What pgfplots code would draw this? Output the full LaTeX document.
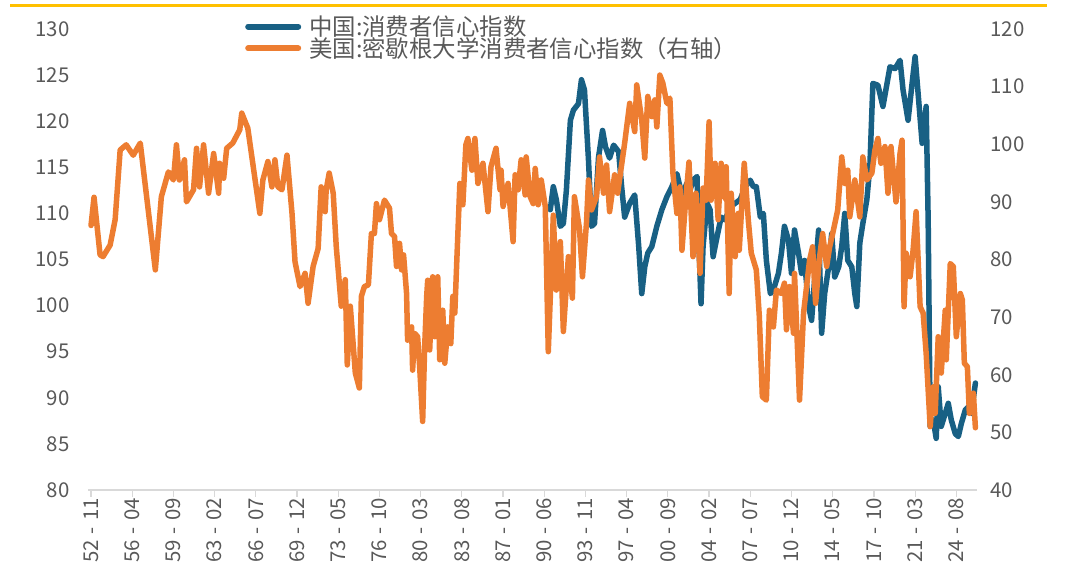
\documentclass[border=0pt]{standalone}
\usepackage{fontspec}
\setmainfont{Noto Sans CJK SC}
\usepackage{pgfplots}
\pgfplotsset{compat=1.18}
\definecolor{cnblue}{RGB}{24,96,132}
\definecolor{usorange}{RGB}{237,125,49}
\definecolor{axgray}{RGB}{217,217,217}
\definecolor{txtgray}{RGB}{89,89,89}
\definecolor{topgold}{RGB}{255,192,0}
\newcommand{\dl}[2]{#1\hspace{0.3em}-\hspace{0.3em}#2}

% Michigan consumer sentiment (right axis), x = months since 1952-11
\pgfplotstableread{
m v
0 85.9
3 90.8
9 80.8
12 80.5
19 82.5
24 86.9
29 99.0
35 99.9
42 98.1
49 100.2
64 78.2
70 90.9
77 95.2
82 93.8
85 99.9
88 93.8
93 97.3
95 90.0
102 92.1
105 99.3
108 92.6
112 99.9
117 91.5
122 98.4
127 91.5
128 96.7
132 94.1
135 99.3
141 100.2
148 102.5
150 105.4
156 102.8
168 88.0
171 93.8
176 97.0
180 92.6
183 97.3
186 92.6
190 92.1
195 98.1
200 88.0
203 79.6
208 75.3
213 77.6
216 72.4
221 78.8
226 81.9
229 92.6
233 88.3
234 92.1
237 95.0
241 91.5
244 82.3
249 71.9
253 76.5
255 61.7
258 71.9
263 60.3
267 57.7
269 73.6
272 75.3
276 75.6
279 84.5
282 84.5
284 89.7
287 86.9
292 90.3
297 88.9
299 84.5
302 84.0
304 78.8
307 82.8
309 78.2
311 80.8
314 74.1
315 66.0
319 68.3
320 60.8
322 67.2
325 66.6
327 61.4
330 51.9
332 64.9
334 73.6
335 76.4
337 64.3
340 77.0
342 66.6
345 77.0
347 62.6
350 71.2
352 62.0
355 68.3
358 65.4
360 73.6
362 70.7
364 79.9
367 93.2
370 89.5
373 99.9
375 101.0
379 95.5
382 101.0
385 93.2
390 96.7
395 88.3
398 96.1
403 99.3
407 92.1
408 95.5
410 89.2
415 93.2
420 83.1
422 94.7
425 92.1
428 97.3
432 91.2
433 97.8
437 90.9
440 89.7
442 95.8
445 89.5
448 93.8
452 89.2
455 64.0
460 87.7
463 74.7
467 83.1
470 67.5
475 80.5
479 73.3
481 90.9
486 85.4
489 77.0
493 86.3
495 93.8
498 88.6
503 90.9
506 97.8
510 91.5
513 96.4
516 88.3
521 94.7
524 91.5
531 100.2
536 107.1
541 102.2
543 110.3
548 104.2
551 97.6
554 108.3
558 104.8
561 107.7
563 103.0
566 112.0
569 110.6
573 107.1
576 108.0
579 95.0
583 88.0
586 92.6
588 81.6
592 90.9
595 96.9
599 80.5
602 91.5
606 77.6
609 92.4
612 90.3
615 103.9
617 90.3
621 96.7
624 86.9
627 96.7
631 90.6
632 96.1
635 74.1
637 91.5
641 80.5
644 88.0
645 81.6
649 93.8
650 96.7
654 86.9
657 81.1
662 78.2
665 70.1
668 56.2
672 55.6
675 71.2
679 68.3
682 74.7
687 74.1
690 75.9
692 67.8
695 75.3
699 67.2
700 77.6
705 55.6
709 70.7
712 75.3
715 79.9
718 82.2
721 72.4
725 80.5
728 84.5
732 78.8
735 82.2
738 84.5
743 88.6
747 97.8
750 93.2
753 95.5
755 87.4
760 93.8
765 87.4
768 97.8
772 93.8
777 95.0
780 99.0
783 101.0
786 96.7
790 99.6
793 91.5
796 99.6
801 90.0
805 98.4
807 100.7
809 71.8
811 81.1
815 77.0
818 81.6
821 88.3
825 71.8
828 70.7
831 63.7
835 51.0
838 57.9
840 53.3
843 66.6
846 60.3
850 71.2
851 62.6
855 79.3
858 78.8
861 66.6
865 74.1
867 73.0
869 62.0
872 61.4
874 53.3
878 56.8
880 50.8
}\usdata

% China consumer confidence (left axis)
\pgfplotstableread{
m v
457 110.4
460 112.9
463 111.5
467 108.6
470 108.9
473 112.5
477 120.1
480 121.2
485 121.9
488 124.5
491 123.4
495 115.8
498 108.6
501 108.9
505 116.1
509 119.0
512 117.2
516 116.0
520 117.4
525 116.7
528 112.9
531 109.6
536 111.1
541 112.0
545 106.4
548 101.3
551 104.2
554 105.7
558 106.4
563 108.6
568 110.4
573 111.8
578 112.9
583 114.3
586 112.9
589 112.2
593 113.3
596 112.5
599 113.6
603 114.0
604 109.3
607 100.2
609 106.4
613 111.1
616 110.4
619 105.3
623 107.5
627 109.6
631 109.3
636 110.7
641 111.1
646 111.5
651 112.9
656 113.6
659 112.9
662 112.9
666 109.6
669 110.0
672 104.9
676 101.3
679 101.7
684 103.5
687 105.7
690 108.6
694 107.1
697 103.5
700 108.2
704 105.7
707 103.5
710 104.9
714 99.9
717 98.4
720 102.8
724 108.2
727 97.0
730 101.3
734 104.2
737 107.8
740 103.1
744 104.2
747 106.4
750 110.0
753 104.9
757 104.2
760 101.3
762 99.9
765 106.8
768 108.9
772 111.5
775 115.1
778 124.1
783 123.9
788 121.6
795 125.9
800 125.7
805 126.6
808 123.4
813 120.1
817 124.1
820 127.0
823 123.0
827 117.6
831 121.6
833 109.3
835 86.9
838 87.6
841 85.6
843 91.2
846 86.9
850 88.3
853 89.4
856 87.6
860 86.1
863 85.8
866 87.2
870 88.7
873 89.0
876 88.3
880 91.6
}\cndata

\begin{document}
\begin{tikzpicture}
\path[use as bounding box] (0,0) rectangle (1065bp,571bp);
\draw[topgold, line width=3bp] (10bp,565bp) -- (1047bp,565bp);

\pgfplotsset{
  base/.style={
    scale only axis, width=889bp, height=461bp,
    at={(88bp,81bp)}, anchor=south west,
    xmin=-3, xmax=881.6,
    tick label style={font=\fontsize{20.5}{22}\selectfont, text=txtgray},
    /pgf/number format/assume math mode=true,
    ytick style={draw=none},
    y axis line style={draw=none},
    clip=false,
  },
  ser/.style={line width=5.5bp, line join=round, line cap=round, no markers},
}

\begin{axis}[base,
  ymin=80, ymax=130, ytick={80,85,...,130},
  axis y line*=left, axis x line*=bottom,
  x axis line style={axgray, line width=1.3bp, -},
  xtick={0,41,...,861},
  xticklabels={\dl{52}{11},\dl{56}{04},\dl{59}{09},\dl{63}{02},\dl{66}{07},\dl{69}{12},\dl{73}{05},\dl{76}{10},\dl{80}{03},\dl{83}{08},\dl{87}{01},\dl{90}{06},\dl{93}{11},\dl{97}{04},\dl{00}{09},\dl{04}{02},\dl{07}{07},\dl{10}{12},\dl{14}{05},\dl{17}{10},\dl{21}{03},\dl{24}{08}},
  tick align=outside,
  xtick style={axgray, line width=1.2bp},
  major tick length=7bp,
  xticklabel style={rotate=90, anchor=east, inner sep=1bp},
  yticklabel style={anchor=east, xshift=-8bp},
]
\addplot[ser, cnblue] table[x=m, y=v] {\cndata};
\end{axis}

\begin{axis}[base,
  ymin=40, ymax=120, ytick={40,50,...,120},
  axis y line*=right, axis x line=none,
  yticklabel style={anchor=west, xshift=10bp},
  legend cell align=left,
  legend style={at={(axis description cs:0.1766,1.033)}, anchor=north west,
    draw=none, fill=none, font=\fontsize{23.5}{25}\selectfont, text=txtgray,
    row sep=-3.5bp, inner sep=0bp,
    /tikz/every odd column/.append style={column sep=6bp}},
  legend image code/.code={\draw[#1, line width=6bp, line cap=round] (0bp,0bp) -- (50bp,0bp);},
]
\addlegendimage{cnblue}
\addlegendentry{中国:消费者信心指数}
\addplot[ser, usorange] table[x=m, y=v] {\usdata};
\addlegendentry{美国:密歇根大学消费者信心指数（右轴）}
\end{axis}
\end{tikzpicture}
\end{document}
